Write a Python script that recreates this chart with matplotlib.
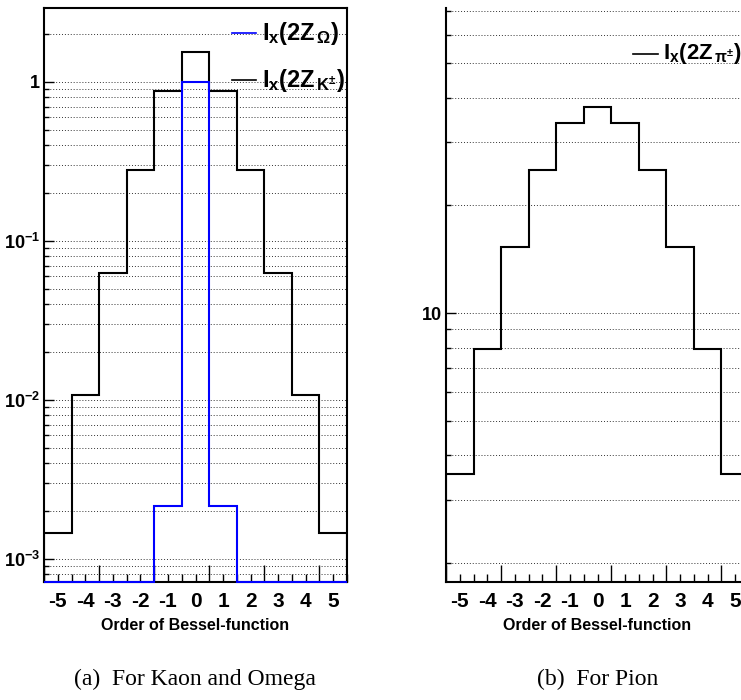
import numpy as np
import matplotlib
matplotlib.use("Agg")
import matplotlib.pyplot as plt
from matplotlib.ticker import FixedLocator, NullFormatter, FuncFormatter, LogLocator
from matplotlib.lines import Line2D

plt.rcParams['font.family'] = ['Liberation Sans', 'DejaVu Sans']
plt.rcParams['font.weight'] = 'bold'
plt.rcParams['mathtext.fontset'] = 'custom'
plt.rcParams['mathtext.rm'] = 'Liberation Sans:bold'
plt.rcParams['mathtext.it'] = 'Liberation Sans:bold'
plt.rcParams['mathtext.bf'] = 'Liberation Sans:bold'
plt.rcParams['mathtext.sf'] = 'Liberation Sans:bold'
plt.rcParams['mathtext.default'] = 'bf'
plt.rcParams['axes.unicode_minus'] = False

# ---- data ----
orders = [-5, -4, -3, -2, -1, 0, 1, 2, 3, 4, 5]
kaon = [0.00145, 0.0107, 0.063, 0.28, 0.877, 1.545, 0.877, 0.28, 0.063, 0.0107, 0.00145]
omega = [0, 0, 0, 0, 0.00215, 1.0, 0.00215, 0, 0, 0, 0]
pion = [3.55, 7.93, 15.3, 25.1, 34.0, 37.7, 34.0, 25.1, 15.3, 7.93, 3.55]
tick_labels = ['-5', '-4', '-3', '-2', '-1', '0', '1', '2', '3', '4', '5']
legend_omega = r'$I_x(2Z_{\,\Omega})$'
legend_kaon = r'$I_x(2Z_{\,K^{\pm}})$'
legend_pion = r'$I_x(2Z_{\,\pi^{\pm}})$'
caption_a = '(a)  For Kaon and Omega'
caption_b = '(b)  For Pion'
xlabel = 'Order of Bessel-function'

W, H = 741, 700
fig = plt.figure(figsize=(W / 100, H / 100), dpi=100)

edges = np.arange(orders[0] - 0.5, orders[-1] + 0.51, 1.0)


def setup_axes(ax, ymin, ymax, ylabfmt):
    ax.set_xlim(edges[0], edges[-1])
    ax.set_yscale('log')
    ax.set_ylim(ymin, ymax)
    ax.yaxis.set_major_locator(LogLocator(base=10))
    ax.yaxis.set_minor_locator(LogLocator(base=10, subs=np.arange(2, 10)))
    ax.grid(True, which='both', axis='y', linestyle=(0, (1, 2)), color='#333333', linewidth=0.7, zorder=0)
    ax.set_axisbelow(True)
    ax.yaxis.set_major_formatter(FuncFormatter(ylabfmt))
    ax.yaxis.set_minor_formatter(NullFormatter())
    ax.tick_params(axis='y', which='major', direction='in', length=7, width=1, labelsize=13, pad=3)
    ax.tick_params(axis='y', which='minor', direction='in', length=3.5, width=1)
    ax.xaxis.set_major_locator(FixedLocator(np.arange(edges[0], edges[-1] + 0.01, 2.0)))
    ax.xaxis.set_minor_locator(FixedLocator(np.arange(edges[0], edges[-1] + 0.01, 0.5)))
    ax.xaxis.set_major_formatter(NullFormatter())
    ax.tick_params(axis='x', which='major', direction='in', length=12, width=1)
    ax.tick_params(axis='x', which='minor', direction='in', length=6, width=1)
    sec = ax.secondary_xaxis('bottom')
    sec.set_xticks(orders, tick_labels)
    sec.tick_params(length=0, labelsize=15, pad=7)
    sec.spines['bottom'].set_visible(False)
    sec.set_xlabel(xlabel, fontsize=11.5, fontweight='bold', labelpad=5)
    for s in ax.spines.values():
        s.set_linewidth(1.5)


def fmt_left(v, pos):
    e = int(round(np.log10(v)))
    if e == 0:
        return '1'
    return r'$10^{%d}$' % e


def fmt_right(v, pos):
    e = int(round(np.log10(v)))
    if e == 1:
        return '10'
    return ''


# ---- left panel ----
axL = fig.add_axes([44 / W, 1 - 582 / H, 303 / W, 574 / H])
yminL, ymaxL = 7.17e-4, 2.92
setup_axes(axL, yminL, ymaxL, fmt_left)
axL.stairs(kaon, edges, baseline=yminL, color='black', linewidth=1.5, zorder=3)
om = np.where(np.array(omega) > 0, omega, yminL)
axL.stairs(om, edges, baseline=yminL, color='#0000ff', linewidth=1.5, zorder=4, clip_on=False)

# legend left
axL.add_line(Line2D([0.622, 0.700], [0.956, 0.956], transform=axL.transAxes, color='#0000ff', lw=1.2))
axL.text(0.718, 0.956, legend_omega, transform=axL.transAxes, fontsize=17, va='center', ha='left')
axL.add_line(Line2D([0.622, 0.700], [0.874, 0.874], transform=axL.transAxes, color='black', lw=1.2))
axL.text(0.718, 0.874, legend_kaon, transform=axL.transAxes, fontsize=17, va='center', ha='left')

# ---- right panel ----
axR = fig.add_axes([446 / W, 1 - 582 / H, 303 / W, 574 / H])
yminR, ymaxR = 1.769, 71.3
setup_axes(axR, yminR, ymaxR, fmt_right)
axR.spines['top'].set_visible(False)
axR.stairs(pion, edges, baseline=yminR, color='black', linewidth=1.5, zorder=3)
axR.add_line(Line2D([(633 - 446) / 303, (658 - 446) / 303], [0.92, 0.92], transform=axR.transAxes, color='black', lw=1.2))
axR.text((663 - 446) / 303, 0.92, legend_pion, transform=axR.transAxes, fontsize=16, va='center', ha='left')

# captions
fig.text(195 / W, 1 - 679 / H, caption_a, family='Liberation Serif', fontweight='normal', fontsize=17, ha='center', va='center')
fig.text(598 / W, 1 - 679 / H, caption_b, family='Liberation Serif', fontweight='normal', fontsize=17, ha='center', va='center')

fig.savefig('out.png', dpi=100)
